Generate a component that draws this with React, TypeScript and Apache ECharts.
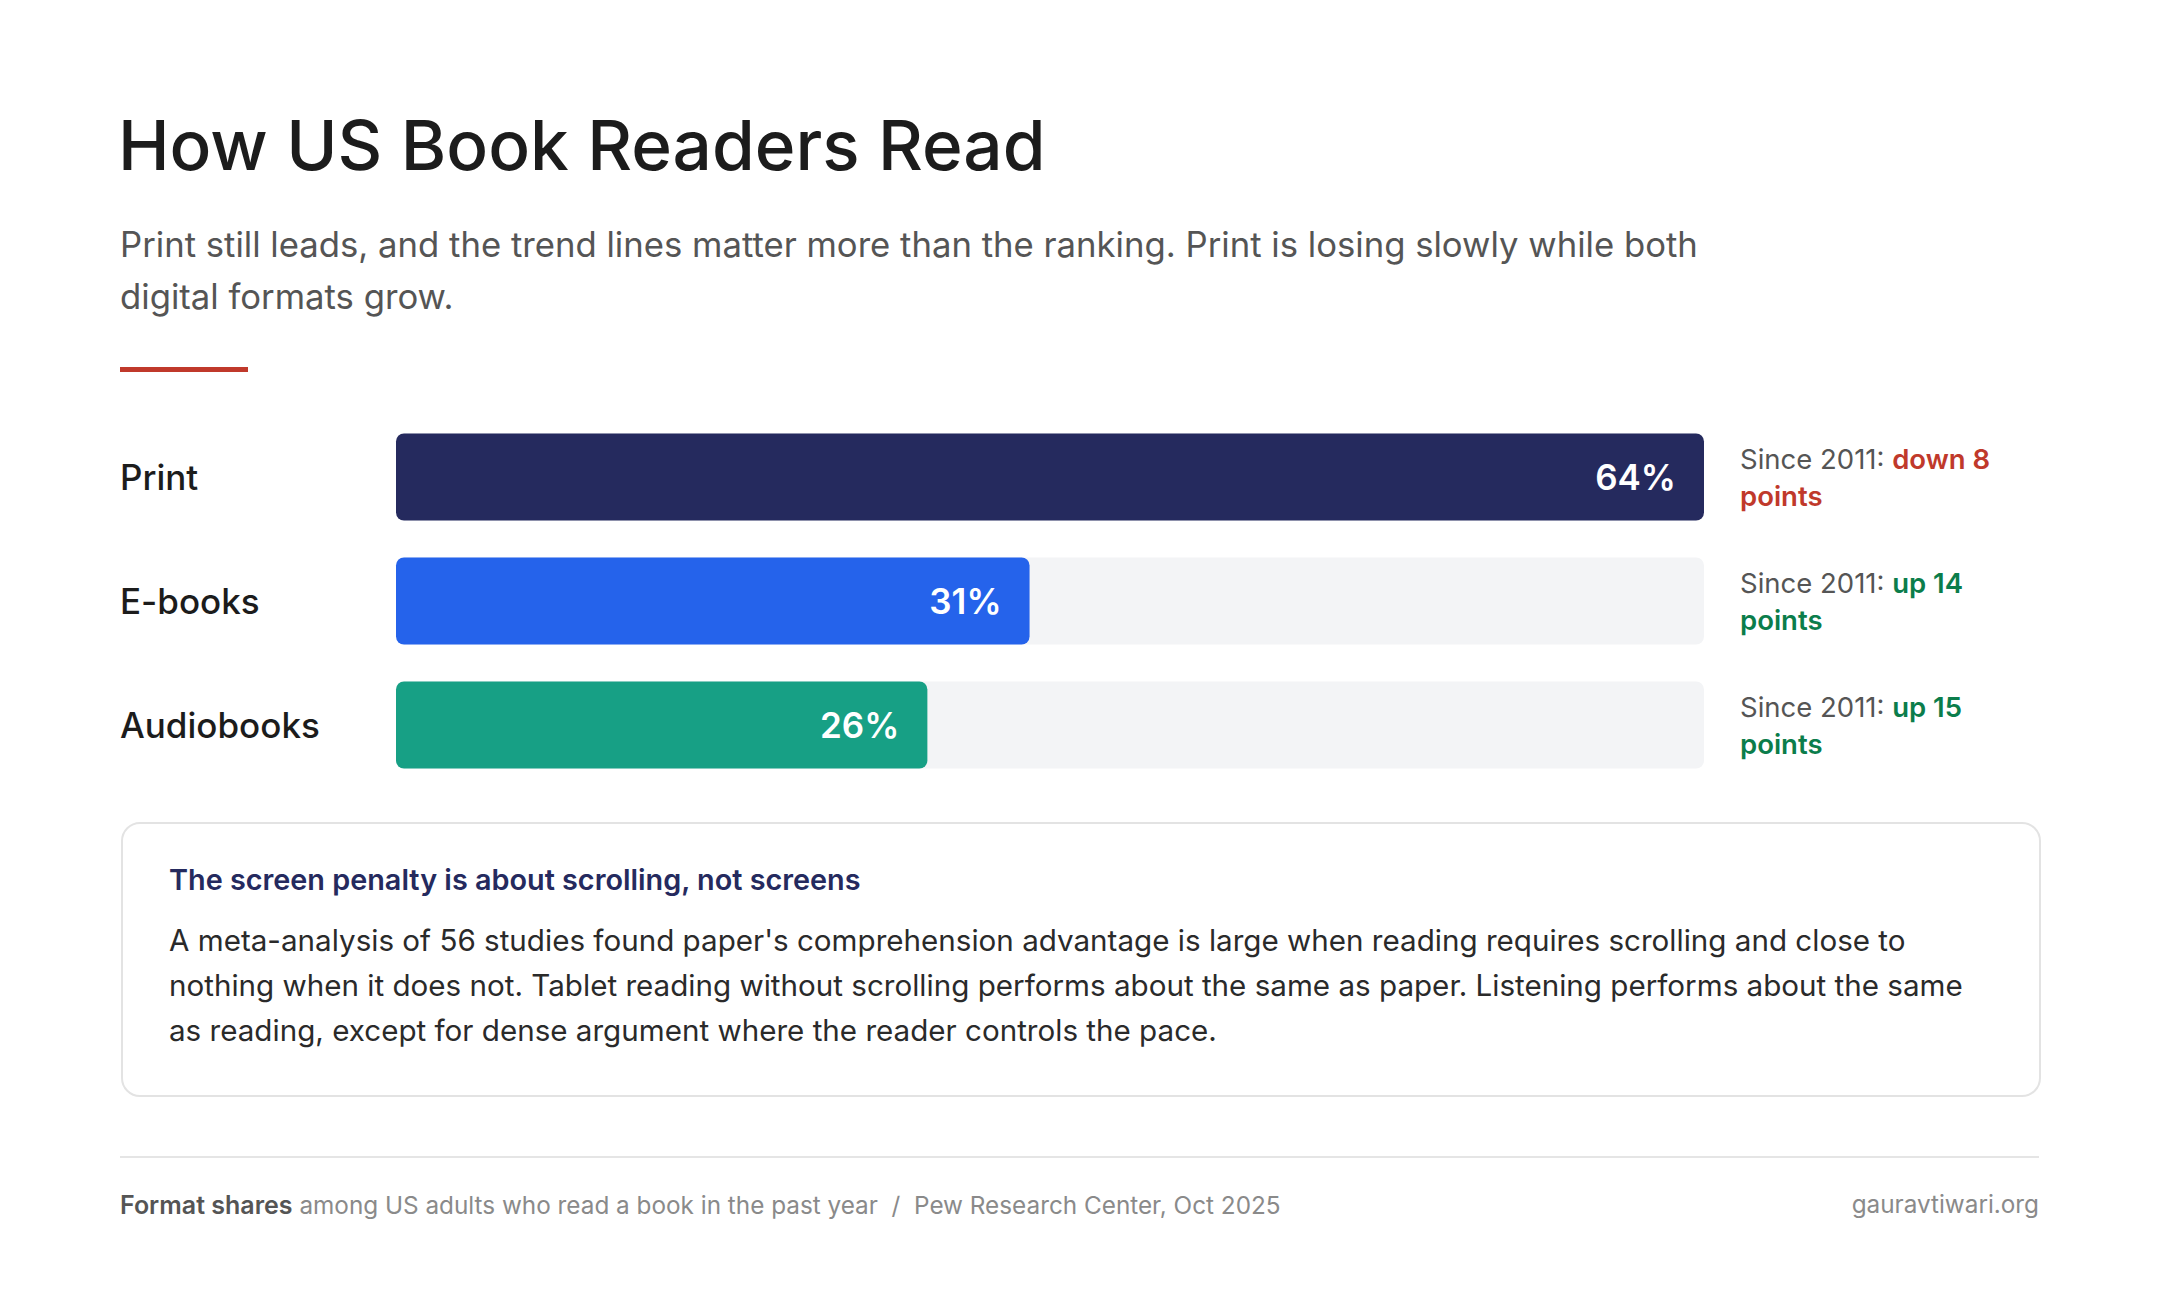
import React, { useEffect, useRef } from "react";
import * as echarts from "echarts";

const categories = ["Print", "E-books", "Audiobooks"];
const shares = [64, 31, 26];
const changeSince2011 = [-8, 14, 15];
const barColors = ["#252a5e", "#2563eb", "#17a085"];

const titleText = "How US Book Readers Read";
const subtitleLines = [
  "Print still leads, and the trend lines matter more than the ranking. Print is losing slowly while both",
  "digital formats grow.",
];
const noteHeading = "The screen penalty is about scrolling, not screens";
const noteLines = [
  "A meta-analysis of 56 studies found paper's comprehension advantage is large when reading requires scrolling and close to",
  "nothing when it does not. Tablet reading without scrolling performs about the same as paper. Listening performs about the same",
  "as reading, except for dense argument where the reader controls the pace.",
];
const footerBold = "Format shares";
const footerRest = " among US adults who read a book in the past year  /  Pew Research Center, Oct 2025";
const footerRight = "gauravtiwari.org";

const FONT = "Inter, 'Noto Sans', sans-serif";

export default function App() {
  const ref = useRef<HTMLDivElement>(null);
  useEffect(() => {
    document.body.style.margin = "0";
    const chart = echarts.init(ref.current!, null, { renderer: "svg" });
    const option: any = {
      animation: false,
      backgroundColor: "#ffffff",
      textStyle: { fontFamily: FONT },
      grid: { left: 396, width: 1308, top: 415, height: 372 },
      xAxis: {
        type: "value",
        min: 0,
        max: Math.max(...shares),
        show: false,
      },
      yAxis: [
        {
          type: "category",
          data: categories,
          inverse: true,
          axisLine: { show: false },
          axisTick: { show: false },
          axisLabel: {
            align: "left",
            margin: 276,
            fontSize: 35,
            fontWeight: 500,
            color: "#1c1c1c",
            fontFamily: FONT,
            padding: [0, 0, 3, 0],
          },
        },
        {
          type: "category",
          data: categories,
          inverse: true,
          position: "right",
          axisLine: { show: false },
          axisTick: { show: false },
          axisLabel: {
            align: "left",
            margin: 36,
            fontSize: 27.5,
            color: "#555555",
            lineHeight: 37,
            fontFamily: FONT,
            formatter: (_v: string, i: number) => {
              const c = changeSince2011[i];
              const key = c < 0 ? "neg" : "pos";
              const word = c < 0 ? "down" : "up";
              return `Since 2011: {${key}|${word} ${Math.abs(c)}}\n{${key}|points}`;
            },
            rich: {
              neg: { color: "#c0392b", fontWeight: 600, fontSize: 27.5, lineHeight: 37, fontFamily: FONT },
              pos: { color: "#0b7d4b", fontWeight: 600, fontSize: 27.5, lineHeight: 37, fontFamily: FONT },
            },
          },
        },
      ],
      series: [
        {
          type: "bar",
          yAxisIndex: 0,
          barWidth: 87,
          data: shares.map((v, i) => ({ value: v, itemStyle: { color: barColors[i] } })),
          itemStyle: { borderRadius: 8 },
          showBackground: true,
          backgroundStyle: { color: "#f3f4f6", borderRadius: 8 },
          label: {
            show: true,
            position: "insideRight",
            distance: 28,
            formatter: "{c}%",
            color: "#ffffff",
            fontSize: 35,
            fontWeight: 600,
            fontFamily: FONT,
          },
        },
      ],
      graphic: [
        {
          type: "text",
          left: 118,
          top: 110,
          style: { text: titleText, fontSize: 69.3, fontWeight: 500, fill: "#1c1c1c", fontFamily: FONT },
        },
        {
          type: "text",
          left: 120,
          top: 218,
          style: {
            text: subtitleLines.join("\n"),
            fontSize: 34.7,
            lineHeight: 52,
            fill: "#555555",
            fontFamily: FONT,
          },
        },
        {
          type: "rect",
          left: 120,
          top: 367,
          shape: { width: 128, height: 5 },
          style: { fill: "#c0392b" },
        },
        {
          type: "rect",
          left: 121,
          top: 822,
          z: -1,
          shape: { width: 1918, height: 273, r: 18 },
          style: { fill: "#ffffff", stroke: "#e3e3e3", lineWidth: 2 },
        },
        {
          type: "text",
          left: 169,
          top: 865,
          style: { text: noteHeading, fontSize: 28.8, fontWeight: 600, fill: "#252a5e", fontFamily: FONT },
        },
        {
          type: "text",
          left: 169,
          top: 917,
          style: {
            text: noteLines.join("\n"),
            fontSize: 29.6,
            lineHeight: 45,
            fill: "#2a2a2a",
            fontFamily: FONT,
          },
        },
        {
          type: "line",
          shape: { x1: 120, y1: 1157, x2: 2039, y2: 1157 },
          style: { stroke: "#e5e5e5", lineWidth: 2 },
        },
        {
          type: "text",
          left: 120,
          top: 1192,
          style: {
            text: `{b|${footerBold}}{n|${footerRest}}`,
            rich: {
              b: { fontSize: 25, fontWeight: 600, fill: "#555555", fontFamily: FONT },
              n: { fontSize: 24.3, fill: "#8a8a8a", fontFamily: FONT },
            },
          },
        },
        {
          type: "text",
          right: 121,
          top: 1192,
          style: { text: footerRight, fontSize: 24.3, fill: "#8a8a8a", fontFamily: FONT },
        },
      ],
    };
    chart.setOption(option);
    return () => chart.dispose();
  }, []);
  return <div ref={ref} style={{ width: 2160, height: 1306 }} />;
}
